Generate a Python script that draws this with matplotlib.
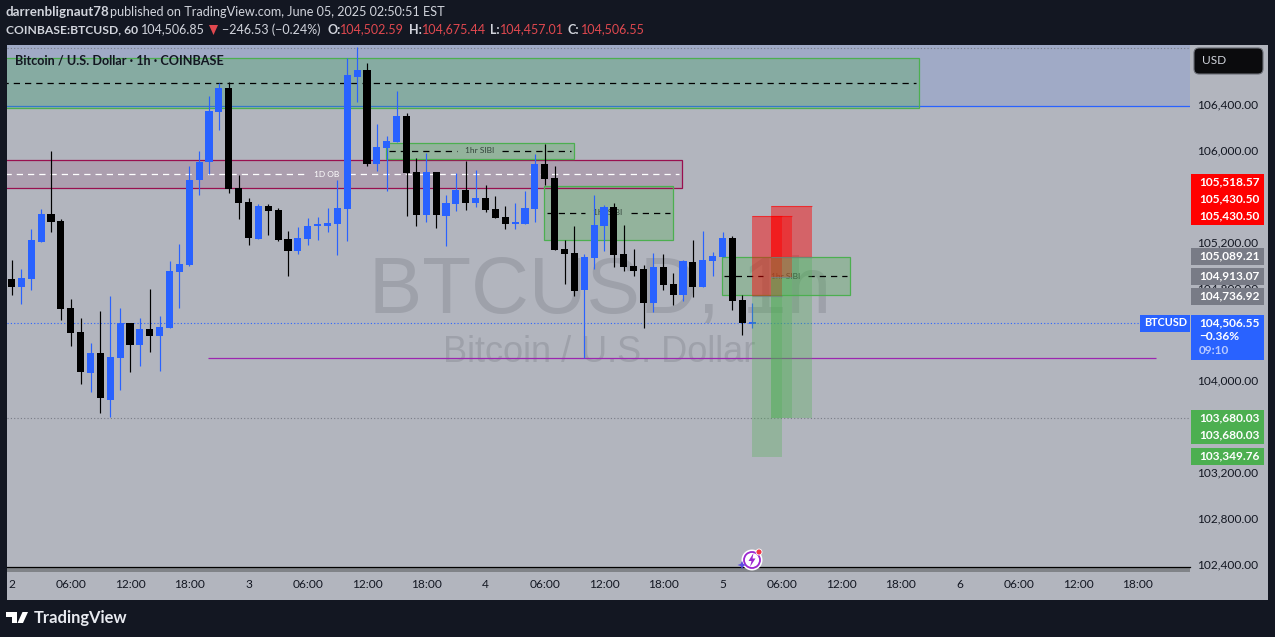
import matplotlib
matplotlib.use("Agg")
import matplotlib.pyplot as plt
from matplotlib.patches import Rectangle, FancyBboxPatch, Circle, Polygon

W, H = 1275, 637
SANS = ["Lato", "DejaVu Sans"]
plt.rcParams["font.family"] = SANS

BG = "#131722"; PANEL = "#B2B5BE"; BLUE = "#2962FF"; GREEN = "#4CAF50"; RED = "#FF0000"
GREY = "#787B86"; TXT = "#D1D4DC"; QUOTE = "#E0484F"

# ---------- data ----------
opens = [104873,104803,104873,105195,105438,105377,104620,104412,104055,104229,103820,104185,104490,104298,104438,104377,
         104446,104934,104994,105734,105891,106326,106534,105664,105543,105221,105508,105473,105221,105116,105221,105337,
         105334,105351,105482,106630,106691,105873,106012,106065,106291,105804,105429,105804,105421,105525,105647,105534,
         105577,105482,105412,105354,105351,105482,105873,105751,105134,105099,104778,105056,105335,105500,105091,104987,
         104961,104665,104978,104830,104734,105022,104804,105030,105065,105230,104691,104485]
highs = [105038,104960,105308,105482,105986,105395,104699,104533,104316,104594,104725,104620,104490,104533,104786,104551,
         105029,105177,105856,105986,106465,106575,106584,105777,105577,105525,105525,105490,105290,105325,105403,105412,
         105490,105734,106795,106888,106752,106221,106117,106508,106317,105925,105969,105804,105603,105795,105899,105821,
         105690,105595,105508,105534,105638,105960,106047,105856,105212,105334,105091,105604,105517,105535,105343,105135,
         104995,105100,105091,104926,105039,105213,105291,105109,105283,105248,104734,104665]
lows = [104733,104655,104777,105195,105282,104516,104290,103959,103890,103707,103672,103907,104064,104116,104238,104072,
        104446,104620,104986,105603,105783,106169,105621,105395,105168,105221,105255,105203,104899,105090,105168,105212,
        105282,105081,105203,106413,105856,105812,105638,106065,105421,105334,105369,105316,105160,105464,105473,105499,
        105456,105403,105308,105308,105351,105369,105690,105125,104829,104725,104183,104961,105117,104978,104943,104900,
        104447,104587,104778,104647,104682,104717,104804,104900,105065,104604,104386,104447]
closes = [104803,104881,105212,105438,105369,104612,104403,104064,104229,103837,104194,104490,104298,104438,104377,104455,
          104942,105003,105734,105891,106334,106534,105659,105534,105229,105508,105464,105212,105116,105229,105334,105342,
          105360,105490,106647,106691,105873,106021,106073,106291,105795,105429,105804,105429,105534,105647,105534,105577,
          105473,105403,105351,105360,105490,105873,105743,105125,105090,104768,105065,105343,105500,105082,104978,104943,
          104665,104978,104821,104734,105030,104804,105039,105074,105230,104682,104488,104491]

time_ticks = list(range(0, 120, 6))
time_labels = ["2","06:00","12:00","18:00","3","06:00","12:00","18:00","4","06:00","12:00","18:00",
               "5","06:00","12:00","18:00","6","06:00","12:00","18:00"]
price_ticks = list(range(102400, 106401, 400))

last_price = 104489
low_dotted = 103669
magenta_level = 104184

# zones: bar start, bar end, price low, price high, label, label bar
green_zones = [(-1, 91.9, 106361, 106793, "", None),
               (37.9, 57.0, 105920, 106054, "1hr SIBI", 47.4),
               (53.9, 67.0, 105216, 105683, "1hr SIBI", 60.4),
               (71.9, 84.9, 104732, 105063, "1hr SIBI", 78.4)]
ob_zone = (-1, 67.9, 105663, 105906, "1D OB", 31.9)
# positions: bar start, bar end, stop, entry, target
positions = [(74.95, 78.0, 105422, 104723, 103329),
             (76.9, 79.0, 105422, 104894, 103665),
             (76.9, 81.05, 105509, 105068, 103665)]

# ---------- canvas ----------
fig = plt.figure(figsize=(W/100, H/100), dpi=100, facecolor=BG)

def fx(x): return x / W
def fy(y): return 1 - y / H

fig.add_artist(Rectangle((fx(7), fy(600)), (1268-7)/W, (600-45)/H, transform=fig.transFigure,
                         fc=PANEL, ec="none", zorder=-5))
fig.add_artist(Rectangle((fx(7), fy(572)), (1190-7)/W, 5/H, transform=fig.transFigure,
                         fc="#808388", ec="none", zorder=-4))

ax = fig.add_axes([fx(7), fy(567), (1190-7)/W, (567-45)/H], zorder=1)
ax.patch.set_alpha(0)
ax.set_xlim((7-11.5)/9.875, (1190-11.5)/9.875)
ax.set_ylim(106400-(567-103.5)*8.696, 106400+(103.5-45)*8.696)
for s in ("top", "left", "right"):
    ax.spines[s].set_visible(False)
ax.spines["bottom"].set_color("black"); ax.spines["bottom"].set_linewidth(0.9)

ax.yaxis.tick_right()
ax.set_yticks(price_ticks)
ax.set_yticklabels([f"{p:,.2f}" for p in price_ticks], fontsize=8.6, color="#131722")
ax.set_xticks(time_ticks)
ax.set_xticklabels(time_labels, fontsize=8.6, color="#131722")
ax.tick_params(axis="both", length=0)
ax.tick_params(axis="y", pad=5.2)
ax.tick_params(axis="x", pad=8.5)

DASH = (0, (5, 4))

# watermark
fig.text(fx(600), fy(313), "BTCUSD, 1h", family=["Liberation Sans"], fontsize=57.6, color="#9EA1AA",
         ha="center", va="baseline", zorder=0.5)
fig.text(fx(599), fy(361.5), "Bitcoin / U.S. Dollar", family=["Liberation Sans"], fontsize=26, color="#9EA1AA",
         ha="center", va="baseline", zorder=0.5)

# blue region
top = ax.get_ylim()[1]
ax.add_patch(Rectangle((-1, 106376), 125, top-106376, fc=BLUE, alpha=0.13, ec="none", zorder=1))
ax.axhline(106376, color=BLUE, lw=0.9, zorder=1.2)
ax.axhline(106880, color=GREY, lw=0.8, ls=(0, (1, 2)), zorder=1.2)
ax.axhline(low_dotted, color=GREY, lw=0.8, ls=(0, (1, 2)), zorder=1.2)
ax.axhline(last_price, xmax=(1140-7)/(1190-7), color=BLUE, lw=0.8, ls=(0, (1, 2)), zorder=1.2)
ax.hlines(magenta_level, 19.9, 115.9, color="#9C27B0", lw=0.9, zorder=1.3)


def zone(z, fc, ec, fa, line, tc, fs=6):
    x0, x1, lo, hi, label, lx = z
    ax.add_patch(Rectangle((x0, lo), x1-x0, hi-lo, fc=fc, alpha=fa, ec="none", zorder=1.5))
    ax.add_patch(Rectangle((x0, lo), x1-x0, hi-lo, fc="none", ec=ec, lw=0.9, zorder=1.6))
    mid = (lo+hi)/2
    if label:
        gap = 2.3
        ax.hlines(mid, x0+0.3, lx-gap, color=line, lw=0.9, ls=DASH, zorder=1.7)
        ax.hlines(mid, lx+gap, x1-0.3, color=line, lw=0.9, ls=DASH, zorder=1.7)
        ax.text(lx, mid, label, color=tc, fontsize=fs, ha="center", va="center", zorder=1.8)
    else:
        ax.hlines(mid, x0, x1-0.3, color=line, lw=0.9, ls=DASH, zorder=1.7)


zone(ob_zone, "#880E4F", "#990F4F", 0.13, "white", "white")
for z in green_zones:
    zone(z, GREEN, GREEN, 0.3, "black", "#33433a")

# candles
for i, (o, h, l, c) in enumerate(zip(opens, highs, lows, closes)):
    col = BLUE if c >= o else "black"
    ax.vlines(i, l, h, color=col, lw=0.85, zorder=3)
    ax.bar(i, max(abs(c-o), 12), bottom=min(o, c), width=0.71, color=col, lw=0, zorder=3.1)

# positions on top
for x0, x1, stop, entry, target in positions:
    ax.add_patch(Rectangle((x0, entry), x1-x0, stop-entry, fc=RED, alpha=0.45, ec="none", zorder=4))
    ax.add_patch(Rectangle((x0, target), x1-x0, entry-target, fc=GREEN, alpha=0.3, ec="none", zorder=4))
    ax.hlines(stop, x0, x1, color=RED, lw=0.8, alpha=0.55, zorder=4.1)
    ax.hlines(entry, x0, x1, color=GREY, lw=0.8, alpha=0.7, zorder=4.1)


def label(x0, y0, x1, y1, fc, texts, cols=None, fs=8.6, left=1199, z=6):
    fig.add_artist(Rectangle((fx(x0), fy(y1)), (x1-x0)/W, (y1-y0)/H, transform=fig.transFigure,
                             fc=fc, ec="none", zorder=z))
    for k, (ty, t) in enumerate(texts):
        fig.text(fx(left), fy(ty), t, color=(cols[k] if cols else "white"), fontsize=fs,
                 ha="left", va="center", zorder=z+0.1, fontweight="bold")


label(1191, 174, 1264, 225, RED, [(181.5, "105,518.57"), (199, "105,430.50"), (216, "105,430.50")])
label(1191, 248, 1264, 264.7, GREY, [(256, "105,089.21")])
label(1191, 268, 1264, 285, GREY, [(276, "104,913.07")])
label(1191, 288, 1264, 305, GREY, [(296, "104,736.92")])
label(1191, 315, 1264, 360, BLUE, [(323, "104,506.55"), (337, "\u22120.36%"), (351, "09:10")],
      cols=["white", "white", "#B7C9FF"])
label(1140, 315, 1190, 332, BLUE, [(323, "BTCUSD")], left=1144, fs=7.8)
label(1191, 410, 1264, 444, GREEN, [(418, "103,680.03"), (435, "103,680.03")])
label(1191, 448, 1264, 465, GREEN, [(456, "103,349.76")])

# currency button
fig.add_artist(FancyBboxPatch((fx(1194), fy(74)), 69/W, 26/H, boxstyle="round,pad=0,rounding_size=0.004",
                              mutation_aspect=2, transform=fig.transFigure, fc="#0b0b0d", ec="#6a6d75", lw=0.8, zorder=6))
fig.text(fx(1202), fy(61), "USD", color=TXT, fontsize=8.6, ha="left", va="center", zorder=6.1)

# legend title
fig.text(fx(15), fy(60.5), "Bitcoin / U.S. Dollar \u00b7 1h \u00b7 COINBASE", color="#131722", fontsize=9.05,
         fontweight="bold", ha="left", va="center", zorder=6)

# header
fig.text(fx(6), fy(12), "darrenblignaut78", color=TXT, fontsize=9.6, fontweight="bold", ha="left", va="center")
fig.text(fx(110), fy(12), "published on TradingView.com, June 05, 2025 02:50:51 EST", color=TXT, fontsize=9.1,
         ha="left", va="center")
header = [(6, "COINBASE:BTCUSD, 60", TXT, "bold", 8.7), (141, "104,506.85", TXT, "normal", 9),
          (222, "\u2212246.53 (\u22120.24%)", TXT, "normal", 9), (327, "O:", TXT, "bold", 9), (340, "104,502.59", QUOTE, "normal", 9),
          (409, "H:", TXT, "bold", 9), (422, "104,675.44", QUOTE, "normal", 9), (490, "L:", TXT, "bold", 9),
          (500, "104,457.01", QUOTE, "normal", 9), (568, "C:", TXT, "bold", 9), (581, "104,506.55", QUOTE, "normal", 9)]
for x, t, c, w, s in header:
    fig.text(fx(x), fy(29.5), t, color=c, fontsize=s, fontweight=w, ha="left", va="center")
fig.add_artist(Polygon([(fx(209), fy(25)), (fx(218), fy(25)), (fx(213.5), fy(35))], transform=fig.transFigure,
                       fc=QUOTE, ec="none"))

# TradingView logo
for pts in ([(6, 612), (17, 612), (17, 623), (11.5, 623), (11.5, 616.5), (6, 616.5)],
            [(22.5, 612), (28, 612), (23, 623), (17.5, 623)]):
    fig.add_artist(Polygon([(fx(a), fy(b)) for a, b in pts], transform=fig.transFigure, fc="white", ec="none"))
fig.text(fx(33.5), fy(618), "TradingView", color="#E8EAF0", fontsize=11.9, fontweight="bold", ha="left", va="center")

# assistant badge
ax2 = fig.add_axes([fx(736), fy(574), 30/W, 28/H], zorder=7)
ax2.set_xlim(736, 766); ax2.set_ylim(574, 546); ax2.axis("off")
ax2.add_patch(Circle((752, 560), 10.5, fc="white", ec="none"))
ax2.add_patch(Circle((752, 560), 8, fc="white", ec="#9C27D0", lw=1.3))
ax2.add_patch(Polygon([(753.5, 553), (748.5, 561), (751.5, 561), (750, 567), (755.5, 558.5), (752.5, 558.5)], fc="#9C27D0", ec="none"))
ax2.add_patch(Circle((759, 552), 3, fc="#F23645", ec="white", lw=0.6))
ax2.add_patch(Polygon([(742, 561), (743.5, 564), (746.5, 565), (743.5, 566), (742, 569), (740.5, 566), (737.5, 565), (740.5, 564)],
                      fc="#5B4BE0", ec="none"))

fig.savefig("out.png", dpi=100, facecolor=BG)
